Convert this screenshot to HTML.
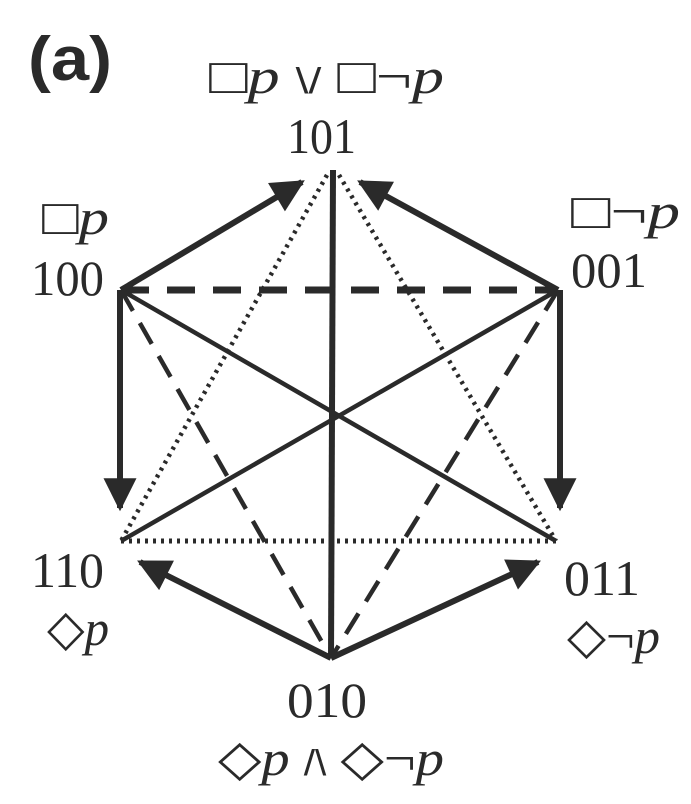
<!DOCTYPE html>
<html><head><style>body{margin:0;background:#fff}svg{display:block}</style></head><body>
<svg width="691" height="804" viewBox="0 0 691 804" xmlns="http://www.w3.org/2000/svg">
<defs>
<marker id="ah" viewBox="0 0 10 10" refX="9" refY="5" markerWidth="6" markerHeight="5.5" orient="auto" markerUnits="strokeWidth">
<path d="M0,0 L10,5 L0,10 z" fill="#2a2a2a"/></marker>
</defs>
<g stroke="#2a2a2a" fill="none">
<line x1="333" y1="170" x2="331" y2="658" stroke-width="6"/>
<line x1="121" y1="290" x2="556" y2="541" stroke-width="4.5"/>
<line x1="558" y1="290" x2="121" y2="541" stroke-width="4.5"/>
<line x1="121" y1="290" x2="558" y2="290" stroke-width="7" stroke-dasharray="28,18"/>
<line x1="121" y1="290" x2="331" y2="658" stroke-width="4.5" stroke-dasharray="24,14"/>
<line x1="558" y1="290" x2="331" y2="658" stroke-width="4.5" stroke-dasharray="24,14"/>
<line x1="327" y1="175" x2="121" y2="541" stroke-width="4.5" stroke-dasharray="3,5"/>
<line x1="339" y1="175" x2="556" y2="541" stroke-width="4.5" stroke-dasharray="3,5"/>
<line x1="121" y1="541" x2="556" y2="541" stroke-width="5" stroke-dasharray="3,5"/>
<g stroke-width="6" marker-end="url(#ah)">
<line x1="121" y1="290" x2="302" y2="182"/>
<line x1="558" y1="290" x2="360" y2="182"/>
<line x1="120" y1="290" x2="120" y2="508"/>
<line x1="560" y1="290" x2="560" y2="508"/>
<line x1="331" y1="658" x2="140" y2="562"/>
<line x1="331" y1="658" x2="538" y2="562"/>
</g>
</g>
<text x="28" y="80" font-family="Liberation Sans, sans-serif" font-weight="bold" font-size="62" fill="#2a2a2a" textLength="84" lengthAdjust="spacingAndGlyphs">(a)</text>
<g font-family="Liberation Serif, DejaVu Serif, serif" font-size="50" fill="#2a2a2a">
<text x="209" y="93" textLength="235" lengthAdjust="spacingAndGlyphs">□<tspan font-style="italic">p</tspan> <tspan font-family="Liberation Sans, sans-serif" font-size="36">\/</tspan> □¬<tspan font-style="italic">p</tspan></text>
<text x="287" y="153" textLength="69" lengthAdjust="spacingAndGlyphs">101</text>
<text x="42" y="234" textLength="67" lengthAdjust="spacingAndGlyphs">□<tspan font-style="italic">p</tspan></text>
<text x="31" y="295" textLength="73" lengthAdjust="spacingAndGlyphs">100</text>
<text x="571" y="228" textLength="109" lengthAdjust="spacingAndGlyphs">□¬<tspan font-style="italic">p</tspan></text>
<text x="571" y="287" textLength="76" lengthAdjust="spacingAndGlyphs">001</text>
<text x="31" y="587" textLength="73" lengthAdjust="spacingAndGlyphs">110</text>
<text x="47" y="645" textLength="62" lengthAdjust="spacingAndGlyphs">◇<tspan font-style="italic">p</tspan></text>
<text x="564" y="595" textLength="76" lengthAdjust="spacingAndGlyphs">011</text>
<text x="567" y="653" textLength="93" lengthAdjust="spacingAndGlyphs">◇¬<tspan font-style="italic">p</tspan></text>
<text x="287" y="717" textLength="80" lengthAdjust="spacingAndGlyphs">010</text>
<text x="218" y="775" textLength="226" lengthAdjust="spacingAndGlyphs">◇<tspan font-style="italic">p</tspan> <tspan font-family="Liberation Sans, sans-serif" font-size="36">/\</tspan> ◇¬<tspan font-style="italic">p</tspan></text>
</g>
</svg>
</body></html>
